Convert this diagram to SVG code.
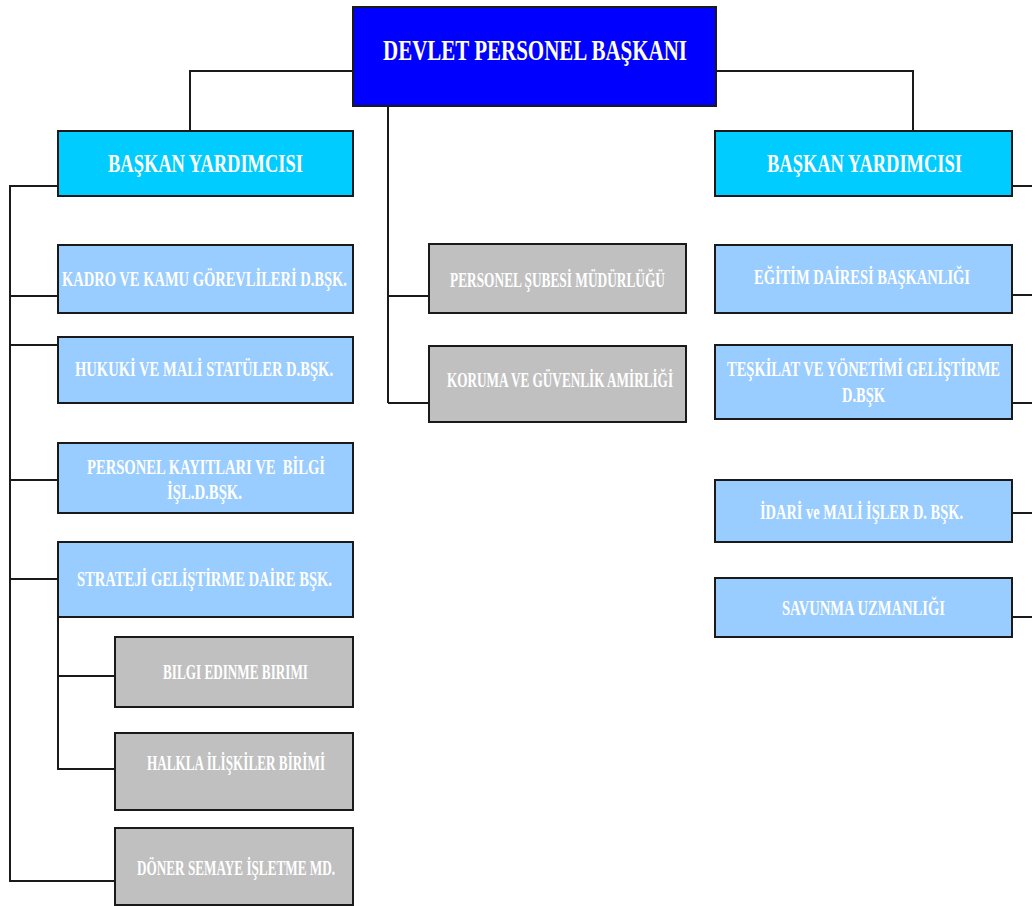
<svg xmlns="http://www.w3.org/2000/svg" width="1032" height="906" viewBox="0 0 1032 906">
<style>
.box{stroke:#1a1a1a;stroke-width:2}
.top{fill:#0000ff}
.by{fill:#00ccff}
.dep{fill:#99ccff}
.gry{fill:#c0c0c0}
.t{font-family:"Liberation Serif","Times New Roman",serif;font-weight:bold;fill:#ffffff;text-anchor:middle;white-space:pre}
.t29{font-size:29px}
.t26{font-size:26px}
.t20{font-size:20px}
.con{stroke:#1a1a1a;stroke-width:2;fill:none}
</style>
<rect width="1032" height="906" fill="#ffffff"/>
<g id="connectors">
<path class="con" d="M353 71H190V131M716 71H913V131"/>
<path class="con" d="M388 106V403M388 296H429M388 403H429"/>
<path class="con" d="M58 186H10V881H115M10 296H58M10 345H58M10 480H58M10 579H58"/>
<path class="con" d="M58 617V769H115M58 676H115"/>
<path class="con" d="M1012 186H1032M1012 295H1032M1012 403H1032M1012 513H1032M1012 617H1032"/>
</g>
<g id="baskan">
<rect class="box top" x="353" y="7" width="363" height="99"/>
<text class="t t29" transform="translate(535,60) scale(0.7,1)" textLength="434.3" lengthAdjust="spacingAndGlyphs">DEVLET PERSONEL BAŞKANI</text>
</g>
<g id="yardimci-sol">
<rect class="box by" x="58" y="131" width="295" height="65"/>
<text class="t t26" transform="translate(205.5,172) scale(0.7,1)" textLength="278.6" lengthAdjust="spacingAndGlyphs">BAŞKAN YARDIMCISI</text>
</g>
<g id="yardimci-sag">
<rect class="box by" x="715" y="131" width="297" height="65"/>
<text class="t t26" transform="translate(864.5,172) scale(0.7,1)" textLength="278.6" lengthAdjust="spacingAndGlyphs">BAŞKAN YARDIMCISI</text>
</g>
<g id="kadro">
<rect class="box dep" x="58" y="245" width="295" height="68"/>
<text class="t t20" transform="translate(204.5,286) scale(0.7,1)" textLength="407.1" lengthAdjust="spacingAndGlyphs">KADRO VE KAMU GÖREVLİLERİ D.BŞK.</text>
</g>
<g id="hukuki">
<rect class="box dep" x="58" y="337" width="295" height="66"/>
<text class="t t20" transform="translate(204,376) scale(0.7,1)" textLength="368.6" lengthAdjust="spacingAndGlyphs">HUKUKİ VE MALİ STATÜLER D.BŞK.</text>
</g>
<g id="personel-kayitlari">
<rect class="box dep" x="58" y="443" width="295" height="70"/>
<text class="t t20" transform="translate(206,474) scale(0.7,1)" textLength="340" lengthAdjust="spacingAndGlyphs">PERSONEL KAYITLARI VE  BİLGİ</text>
<text class="t t20" transform="translate(204.5,499) scale(0.7,1)" textLength="107.1" lengthAdjust="spacingAndGlyphs">İŞL.D.BŞK.</text>
</g>
<g id="strateji">
<rect class="box dep" x="58" y="542" width="295" height="75"/>
<text class="t t20" transform="translate(204.5,586) scale(0.7,1)" textLength="364.3" lengthAdjust="spacingAndGlyphs">STRATEJİ GELİŞTİRME DAİRE BŞK.</text>
</g>
<g id="bilgi-edinme">
<rect class="box gry" x="115" y="637" width="238" height="70"/>
<text class="t t20" transform="translate(235.5,679) scale(0.7,1)" textLength="207.1" lengthAdjust="spacingAndGlyphs">BILGI EDINME BIRIMI</text>
</g>
<g id="halkla">
<rect class="box gry" x="115" y="733" width="238" height="77"/>
<text class="t t20" transform="translate(236,770) scale(0.7,1)" textLength="254.3" lengthAdjust="spacingAndGlyphs">HALKLA İLİŞKİLER BİRİMİ</text>
</g>
<g id="doner">
<rect class="box gry" x="115" y="828" width="238" height="77"/>
<text class="t t20" transform="translate(236,875) scale(0.7,1)" textLength="282.9" lengthAdjust="spacingAndGlyphs">DÖNER SEMAYE İŞLETME MD.</text>
</g>
<g id="personel-subesi">
<rect class="box gry" x="429" y="244" width="257" height="69"/>
<text class="t t20" transform="translate(557.5,287) scale(0.7,1)" textLength="307.1" lengthAdjust="spacingAndGlyphs">PERSONEL ŞUBESİ MÜDÜRLÜĞÜ</text>
</g>
<g id="koruma">
<rect class="box gry" x="429" y="346" width="257" height="76"/>
<text class="t t20" transform="translate(560,387) scale(0.7,1)" textLength="322.9" lengthAdjust="spacingAndGlyphs">KORUMA VE GÜVENLİK AMİRLİĞİ</text>
</g>
<g id="egitim">
<rect class="box dep" x="715" y="245" width="297" height="68"/>
<text class="t t20" transform="translate(862,284) scale(0.7,1)" textLength="308.6" lengthAdjust="spacingAndGlyphs">EĞİTİM DAİRESİ BAŞKANLIĞI</text>
</g>
<g id="teskilat">
<rect class="box dep" x="715" y="345" width="297" height="74"/>
<text class="t t20" transform="translate(863.5,376) scale(0.7,1)" textLength="390" lengthAdjust="spacingAndGlyphs">TEŞKİLAT VE YÖNETİMİ GELİŞTİRME</text>
<text class="t t20" transform="translate(863.5,402) scale(0.7,1)" textLength="61.4" lengthAdjust="spacingAndGlyphs">D.BŞK</text>
</g>
<g id="idari">
<rect class="box dep" x="715" y="480" width="297" height="62"/>
<text class="t t20" transform="translate(861.5,519) scale(0.7,1)" textLength="290" lengthAdjust="spacingAndGlyphs">İDARİ ve MALİ İŞLER D. BŞK.</text>
</g>
<g id="savunma">
<rect class="box dep" x="715" y="578" width="297" height="59"/>
<text class="t t20" transform="translate(863.5,615) scale(0.7,1)" textLength="232.9" lengthAdjust="spacingAndGlyphs">SAVUNMA UZMANLIĞI</text>
</g>
</svg>
